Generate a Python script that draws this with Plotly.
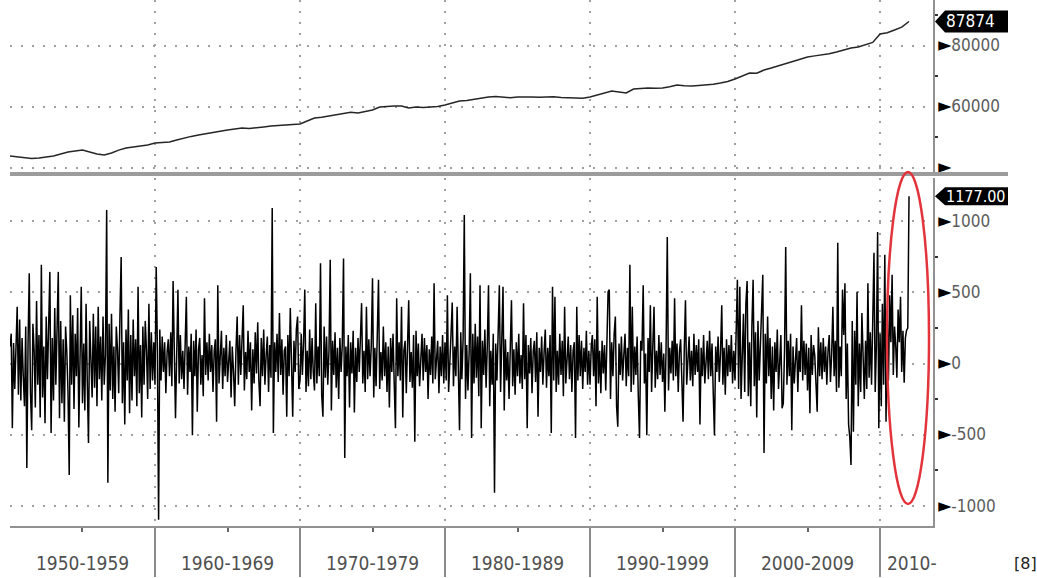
import pandas as pd
import plotly.graph_objects as go

# ---------------- data ----------------
# Top panel: level (thousands), Jan / Jul readings from Jan 1950 to Jan 2012
level = [43800, 43450, 43100, 42950, 43100, 43450, 43750, 44400, 45100, 45400,
         45700, 45100, 44400, 44100, 44750, 45700, 46400, 46700, 47050, 47400,
         48000, 48200, 48350, 49000, 49700, 50200, 50650, 51100, 51650, 51900,
         52300, 52600, 52950, 52800, 52950, 53300, 53600, 53800, 53950, 54100,
         54260, 55250, 56200, 56500, 56900, 57400, 57900, 58100, 57900, 58300,
         58850, 59850, 60150, 60200, 60150, 59500, 59850, 59700, 59850, 60000,
         60500, 61200, 61800, 62000, 62450, 62700, 63100, 63300, 63100, 62900,
         63100, 63200, 63100, 63000, 63100, 63200, 62950, 62900, 62800, 62700,
         63100, 63700, 64400, 65100, 64750, 64450, 65750, 66000, 66050, 66000,
         66050, 66500, 67050, 66800, 66700, 66900, 67050, 67300, 67700, 68200,
         69000, 70000, 71000, 70900, 71950, 72600, 73300, 74100, 74900, 75600,
         76250, 76600, 76900, 77300, 77850, 78400, 79200, 79500, 80150, 81000,
         83800, 84200, 85100, 86000, 87874]

# Bottom panel: monthly change (thousands), one row per year
chg_1950s = [120, 210, -455, 145, -180, 60, 400, -220, 310, -260, 180, -90,
             -300, 260, -735, 150, 635, -210, -470, 280, 90, -310, 440, -150,
             200, -380, 695, -240, 120, -420, 330, -110, 250, 645, -490, 180,
             -260, 390, -150, 210, 645, -385, 300, -280, 170, -410, 260, 90,
             -200, -785, 480, -150, 340, -320, 210, -90, 390, -450, 160, 540,
             -280, 140, -330, 420, -120, -560, 300, 80, -240, 350, -170, 260,
             -300, 400, -110, 190, -260, 330, -150, 60, 1080, -840, 280, -190,
             350, -250, 120, -340, 260, 100, -210, 330, 750, -280, 150, -430,
             240, -120, 380, -350, 200, -260, 310, -90, 170, -300, 540, -210,
             130, -380, 260, -150, 300, 90, -250, 420, -180, 220, -120, 150]
chg_1960s = [-150, 680, 110, -1100, 240, -120, 190, -60, 150, -210, 80, 170,
             -90, 220, -160, 580, 130, -385, 60, 520, -140, 200, -110, 90,
             -180, 140, 470, -220, 120, -60, 210, -505, 160, -90, 240, -340,
             100, 180, -150, 60, -230, 460, -80, 150, -120, 210, -60, 130,
             -200, 90, 170, -410, 550, -140, 60, 230, -180, 110, -90, 200,
             -130, 70, 160, -240, 120, -60, -300, 90, 330, -150, 200, -80,
             140, 410, -190, 80, -110, 230, -60, 150, -330, 100, -140, 220,
             -70, 290, -120, -300, 180, -90, 240, -150, 60, 190, -200, 130,
             -100, 1095, -490, 150, -60, 210, -130, 355, -80, 170, -220, 90,
             120, -375, 200, -90, 390, -140, -375, 160, -60, 240, 330, -180]
chg_1970s = [-120, 210, -80, 150, 520, -200, 90, -160, 240, -110, 180, -60,
             -190, 425, -140, 120, -90, 705, -220, -375, 260, -100, 190, -150,
             90, 730, -330, 160, -80, 220, -170, 110, -250, 180, -60, 140,
             740, -665, 120, -90, 200, -310, 150, -70, 230, -345, 110, -130,
             180, -60, 220, 425, -140, 90, -200, 400, -110, 170, -90, 130,
             600, -240, 110, -160, 200, 590, -180, 80, -120, 260, -90, 150,
             -200, 120, -310, 180, -60, 210, -140, -455, 460, -90, 150, -120,
             400, -380, 90, 160, -210, 120, 445, -130, 80, -170, 200, -550,
             230, -90, 140, -160, 70, 210, -120, 180, -60, 130, -250, 100,
             -80, 190, -140, 565, -110, 70, 160, -210, 120, -90, 200, -140]
chg_1980s = [150, -120, 480, -200, 90, 210, 430, -160, 120, -90, 400, -180,
             -470, 220, -110, 170, 1045, -250, 130, -190, 90, 635, -525, 210,
             -140, 280, -100, 190, -230, 550, -455, 160, -80, 240, -170, 120,
             550, -300, 90, -150, 210, -910, 140, -120, 260, 550, -200, 110,
             540, -330, 170, -120, 80, -250, 190, 445, -160, 100, -220, 150,
             -90, 210, -140, 60, -180, 425, -110, 200, -455, 130, -70, 180,
             -210, 90, 160, -130, 220, -375, 110, -60, 190, -150, 80, 240,
             -170, 110, -90, 200, -490, 540, -120, 470, -200, 90, -150, 210,
             -80, 160, -230, 400, -140, 70, 190, -110, 130, -200, 90, 150,
             -525, 400, -120, 200, -90, 160, -180, 110, -60, 230, -150, 90]
chg_1990s = [-150, 120, 200, -90, 170, -300, 470, -140, 90, -210, 160, -70,
             130, -190, 80, 505, 520, -250, 150, -90, 210, 330, -300, -445,
             140, -80, 190, -120, 60, 210, -160, 110, -90, 695, -200, 400,
             -150, 120, -80, 190, -230, -525, 160, 90, 550, -140, 70, -505,
             180, -60, 410, -200, 120, 400, -170, 90, -110, 200, -80, 150,
             -130, 70, -340, 120, 890, -190, 110, -70, 160, -120, 460, -90,
             140, -200, 80, 170, -110, -410, 90, 445, -150, 60, 190, -120,
             90, -160, 210, -80, 130, -60, 170, -430, 110, -90, 200, -140,
             70, 160, -110, 230, -90, 140, -200, -505, 120, -60, 190, -130,
             80, 410, -150, 110, -220, 170, -90, 130, -60, 200, -140, 90]
chg_2000s = [-120, 200, 590, -180, 540, -250, 130, 350, -200, 420, 580, -230,
             150, -300, 260, 590, -160, 220, -380, 300, -120, 180, 470, 625,
             -630, 210, -140, 330, -90, 180, -250, 120, -330, 150, -60, 240,
             -180, 110, 200, -315, -280, 90, 820, -150, 160, -90, 210, -470,
             120, -140, 70, 180, -200, 90, -60, 410, -120, 160, -80, 140,
             -190, 110, -350, 200, -80, 130, 60, -170, -340, 255, -90, 150,
             -110, 180, -60, 120, -150, 90, 200, -130, 70, 400, -90, 160,
             -200, 850, -170, 120, -90, 520, 200, 565, -250, 140, -430, -520,
             -715, 300, -480, 230, -150, 505, -300, 140, -200, 355, 90, -250,
             160, -180, 565, -100, 220, -150, 300, 780, -200, 120, 925, -455]
chg_2010s = [210, -300, 420, -150, 765, -410, 330, -120, 480, 150, 625, -80,
             260, 120, -100, 380, 150, 470, -60, 230, -135, 180, 235, 250,
             1177]

decade_starts = ['1960-01-01', '1970-01-01', '1980-01-01', '1990-01-01',
                 '2000-01-01', '2010-01-01']
mid_decades = ['1955-01-01', '1965-01-01', '1975-01-01', '1985-01-01',
               '1995-01-01', '2005-01-01']
decade_labels = ['1950-1959', '1960-1969', '1970-1979', '1980-1989',
                 '1990-1999', '2000-2009']
last_label = '2010-'
last_label_x = '2010-01-01'
top_ticks = [40000, 60000, 80000]
top_ticktext = ['', '60000', '80000']
top_minor = [50000, 70000, 90000]
bot_ticks = [-1000, -500, 0, 500, 1000]
bot_ticktext = ['-1000', '-500', '0', '500', '1000']
bot_minor = [-750, -250, 250, 750]
note_text = '[8]'

# ---------------- figure ----------------
changes = chg_1950s + chg_1960s + chg_1970s + chg_1980s + chg_1990s + chg_2000s + chg_2010s
chg_dates = pd.date_range('1950-01-01', periods=len(changes), freq='MS')
lvl_dates = pd.date_range('1950-01-01', periods=len(level), freq='6MS')

W, H = 1037, 578
ML, MR, MT, MB = 10, 104, 0, 52
PW, PH = W - ML - MR, H - MT - MB
X_RANGE = ['1950-01-01', '2013-08-27']
TOP_RANGE = [38525, 94920]
BOT_RANGE = [-1144, 1306]
TOP_DOM = [1 - 172 / PH, 1]
BOT_DOM = [0, 1 - 178 / PH]

FONT = 'DejaVu Sans Condensed, DejaVu Sans, sans-serif'
TRI = '<span style="font-size:19px;color:#000000">►</span>'

fig = go.Figure()
fig.add_trace(go.Scatter(x=lvl_dates, y=level, mode='lines',
                         line=dict(color='#262626', width=1.5),
                         xaxis='x2', yaxis='y2', hoverinfo='skip'))
fig.add_trace(go.Scatter(x=chg_dates, y=changes, mode='lines',
                         line=dict(color='#000000', width=1.5),
                         xaxis='x', yaxis='y', hoverinfo='skip'))

grid = dict(showgrid=True, gridcolor='#a0a0a0', gridwidth=1.5, griddash='2px,9px')
tickfont = dict(family=FONT, size=17, color='#5c5c5c')

fig.update_layout(
    width=W, height=H, margin=dict(l=ML, r=MR, t=MT, b=MB),
    paper_bgcolor='white', plot_bgcolor='white', showlegend=False,
    xaxis=dict(domain=[0, 1], anchor='y', type='date', range=X_RANGE,
               tickmode='array', tickvals=decade_starts, ticks='outside',
               ticklen=49, tickwidth=1.5, tickcolor='#8a8a8a',
               showticklabels=False, showline=True, linecolor='#919191',
               linewidth=2, zeroline=False,
               minor=dict(tickvals=mid_decades, ticks='outside', ticklen=4,
                          tickwidth=2, tickcolor='#666666', showgrid=False),
               **grid),
    xaxis2=dict(domain=[0, 1], anchor='y2', matches='x', type='date',
                range=X_RANGE, tickmode='array', tickvals=decade_starts,
                showticklabels=False, ticks='', showline=False,
                zeroline=False, **grid),
    yaxis=dict(domain=BOT_DOM, anchor='x', range=BOT_RANGE, side='right',
               tickmode='array', tickvals=bot_ticks,
               ticktext=[TRI + t for t in bot_ticktext], ticks='',
               showline=True, linecolor='#919191', linewidth=1.5,
               zeroline=False, tickfont=tickfont,
               minor=dict(tickvals=bot_minor, ticks='outside', ticklen=3,
                          tickwidth=2, tickcolor='#333333', showgrid=False),
               **grid),
    yaxis2=dict(domain=TOP_DOM, anchor='x2', range=TOP_RANGE, side='right',
                tickmode='array', tickvals=top_ticks,
                ticktext=[TRI + t for t in top_ticktext], ticks='',
                showline=True, linecolor='#919191', linewidth=1.5,
                zeroline=False, tickfont=tickfont,
                minor=dict(tickvals=top_minor, ticks='outside', ticklen=3,
                           tickwidth=2, tickcolor='#333333', showgrid=False),
                **grid),
)


def to_paper(v, rng, dom):
    return dom[0] + (v - rng[0]) / (rng[1] - rng[0]) * (dom[1] - dom[0])


shapes = []
# grey separator bar between the panels
bar_y = 1 - 174 / PH
shapes.append(dict(type='line', xref='paper', yref='paper', x0=0,
                   x1=(1008 - ML) / PW, y0=bar_y, y1=bar_y,
                   line=dict(color='#9c9c9c', width=4), layer='above'))
# value flags on the right axis
flag_specs = [
    (to_paper(level[-1], TOP_RANGE, TOP_DOM), 11, f'{level[-1]}', 17),
    (to_paper(changes[-1], BOT_RANGE, BOT_DOM), 9, f'{changes[-1]:.2f}', 16),
]
annotations = []
for yp, hh, txt, fs in flag_specs:
    shapes.append(dict(type='path', xref='paper', yref='paper',
                       xsizemode='pixel', ysizemode='pixel', xanchor=1, yanchor=yp,
                       path=f'M 2,0 L 12,{hh} L 75,{hh} L 75,{-hh} L 12,{-hh} Z',
                       fillcolor='#000000', line=dict(width=0), layer='above'))
    annotations.append(dict(xref='paper', yref='paper', x=1, y=yp, xshift=11,
                            xanchor='left', yanchor='middle', showarrow=False,
                            text=txt, font=dict(family=FONT, size=fs, color='white')))
# red highlight ellipse around the latest observation
shapes.append(dict(type='circle', xref='paper', yref='paper',
                   x0=(887 - ML) / PW, x1=(929 - ML) / PW,
                   y0=(H - MB - 504) / PH, y1=(H - MB - 172) / PH,
                   line=dict(color='#e3343c', width=2.5), layer='above'))

label_y = -37 / PH
for xv, lab in zip(mid_decades, decade_labels):
    annotations.append(dict(xref='x', yref='paper', x=xv, y=label_y,
                            xanchor='center', yanchor='middle', showarrow=False,
                            text=lab, font=dict(family=FONT, size=19, color='#505050')))
annotations.append(dict(xref='x', yref='paper', x=last_label_x, y=label_y,
                        xanchor='left', yanchor='middle', xshift=5, showarrow=False,
                        text=last_label, font=dict(family=FONT, size=19, color='#505050')))
annotations.append(dict(xref='paper', yref='paper', x=(1025 - ML) / PW, y=label_y,
                        xanchor='center', yanchor='middle', showarrow=False,
                        text=note_text, font=dict(family='DejaVu Sans, sans-serif',
                                                  size=16, color='#222222')))

fig.update_layout(shapes=shapes, annotations=annotations)
fig.write_html('out.html', config={'displayModeBar': False},
               post_script="document.body.style.margin='0';document.body.style.padding='0';"
                           "document.body.style.overflow='hidden';")
